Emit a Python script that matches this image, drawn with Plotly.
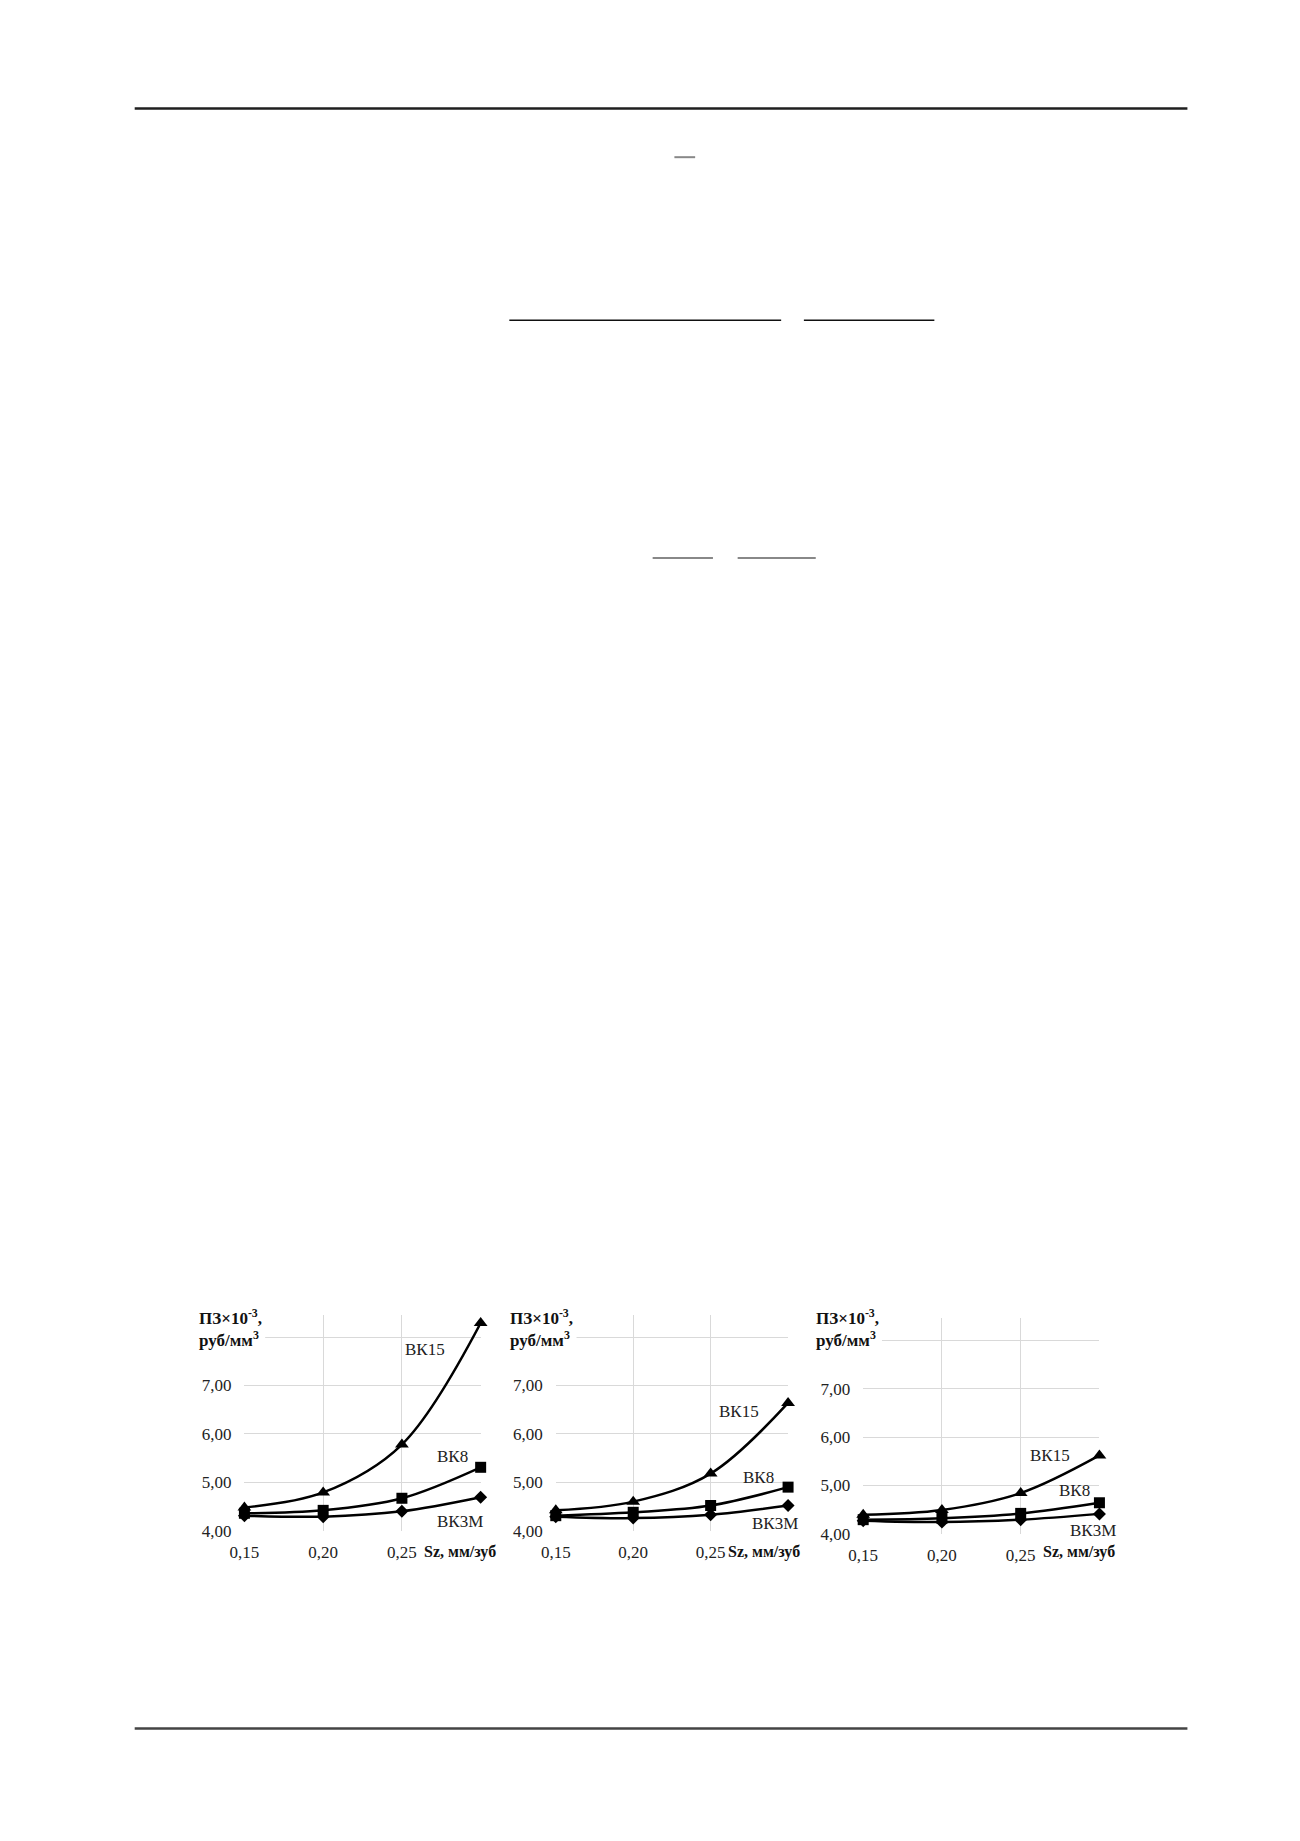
import plotly.graph_objects as go

# page size in px, used to place things in paper coordinates
W, H = 1300, 1841
BODY = 8  # default body margin of the html page


def fx(p):
    return (p - BODY) / W


def fy(p):
    return 1 - (p - BODY) / H


# data
sz = [0.15, 0.20, 0.25, 0.30]
x_ticks = ['0,15', '0,20', '0,25']
y_vals = [4, 5, 6, 7]
y_ticks = ['4,00', '5,00', '6,00', '7,00']

bk15_a = [4.48, 4.79, 5.78, 8.29]
bk8_a = [4.36, 4.42, 4.67, 5.31]
bk3m_a = [4.31, 4.29, 4.40, 4.69]

bk15_b = [4.42, 4.60, 5.18, 6.64]
bk8_b = [4.31, 4.38, 4.52, 4.90]
bk3m_b = [4.29, 4.26, 4.33, 4.52]

bk15_c = [4.39, 4.49, 4.84, 5.62]
bk8_c = [4.29, 4.32, 4.42, 4.64]
bk3m_c = [4.27, 4.24, 4.29, 4.41]

series_names = ['ВК15', 'ВК8', 'ВК3М']
symbols = ['triangle-up', 'square', 'diamond']
msizes = [12, 11, 10]

panels = [
    dict(data=[bk15_a, bk8_a, bk3m_a], x0=232, x1=471, yb=1539, yt=1322, ymax=8.46,
         title_x=185, sz_x=412, lab=[(415, 1357), (443, 1464), (450, 1530)]),
    dict(data=[bk15_b, bk8_b, bk3m_b], x0=547, x1=782, yb=1539, yt=1322, ymax=8.46,
         title_x=500, sz_x=719, lab=[(732, 1419), (752, 1486), (769, 1532)]),
    dict(data=[bk15_c, bk8_c, bk3m_c], x0=858, x1=1097, yb=1542, yt=1325, ymax=8.47,
         title_x=809, sz_x=1038, lab=[(1047, 1463), (1072, 1499), (1090, 1539)]),
]

serif = 'Liberation Serif'
txt_col = '#222222'
grid_col = '#d9d9d9'

fig = go.Figure()
annotations = []
shapes = []
layout_axes = {}

for i, p in enumerate(panels):
    n = '' if i == 0 else str(i + 1)
    for vals, name, sym, ms in zip(p['data'], series_names, symbols, msizes):
        fig.add_trace(go.Scatter(
            x=sz, y=vals, name=name, mode='lines+markers',
            xaxis='x' + n, yaxis='y' + n,
            line=dict(color='black', width=2.5, shape='spline'),
            marker=dict(symbol=sym, size=ms, color='black'),
            cliponaxis=False, showlegend=False))

    layout_axes['xaxis' + n] = dict(
        domain=[fx(p['x0']), fx(p['x1'])], anchor='y' + n,
        range=[0.15, 0.30], tickvals=sz[:3], ticktext=x_ticks,
        showgrid=True, gridcolor=grid_col, gridwidth=1,
        minor=dict(tickvals=[0.30], showgrid=True, gridcolor=grid_col, gridwidth=1),
        zeroline=False, showline=False, ticklabelstandoff=9,
        tickfont=dict(family=serif, size=17, color=txt_col))
    layout_axes['yaxis' + n] = dict(
        domain=[fy(p['yb']), fy(p['yt'])], anchor='x' + n,
        range=[4, p['ymax']], tickvals=y_vals, ticktext=y_ticks,
        showgrid=True, gridcolor=grid_col, gridwidth=1,
        minor=dict(tickvals=[8], showgrid=True, gridcolor=grid_col, gridwidth=1),
        zeroline=False, showline=False, ticklabelstandoff=12,
        tickfont=dict(family=serif, size=17, color=txt_col))

    # white patch behind the y title, hides the grid there
    shapes.append(dict(
        type='rect', xref='paper', yref='paper', layer='above',
        x0=fx(p['title_x'] - 2), x1=fx(p['title_x'] + 68),
        y0=fy(1355), y1=fy(1314),
        fillcolor='white', line=dict(width=0)))
    annotations.append(dict(
        x=fx(p['title_x']), y=fy(1312), xref='paper', yref='paper',
        xanchor='left', yanchor='top', align='left', showarrow=False,
        text='<b>ПЗ×10<sup>-3</sup>,<br>руб/мм<sup>3</sup></b>', borderpad=0,
        font=dict(family=serif, size=17, color='#111111')))
    # x title in place of the last tick label
    annotations.append(dict(
        x=fx(p['sz_x']), y=fy(1560), xref='paper', yref='paper',
        xanchor='left', yanchor='middle', showarrow=False,
        text='<b>Sz, мм/зуб</b>',
        font=dict(family=serif, size=16, color='#111111')))
    for name, (lx, ly) in zip(series_names, p['lab']):
        annotations.append(dict(
            x=fx(lx), y=fy(ly), xref='paper', yref='paper',
            xanchor='center', yanchor='middle', showarrow=False,
            text=name, font=dict(family=serif, size=17, color=txt_col)))

# page rules and formula bars around the charts
page_lines = [
    (121, 1186, 109, '#1f1f1f', 2.5),
    (121, 1186, 1738, '#444444', 2.5),
    (667, 688, 158, '#888888', 2),
    (500, 775, 322, '#111111', 1.5),
    (798, 930, 322, '#111111', 1.5),
    (645, 706, 561, '#888888', 2),
    (731, 810, 561, '#888888', 2),
]
shapes += [dict(type='line', xref='paper', yref='paper',
                x0=fx(a), x1=fx(b), y0=fy(y), y1=fy(y),
                line=dict(color=c, width=w))
           for a, b, y, c, w in page_lines]

fig.update_layout(
    width=W, height=H,
    margin=dict(l=0, r=0, t=0, b=0),
    paper_bgcolor='white', plot_bgcolor='white',
    annotations=annotations, shapes=shapes,
    **layout_axes)

fig.write_html('out.html')
